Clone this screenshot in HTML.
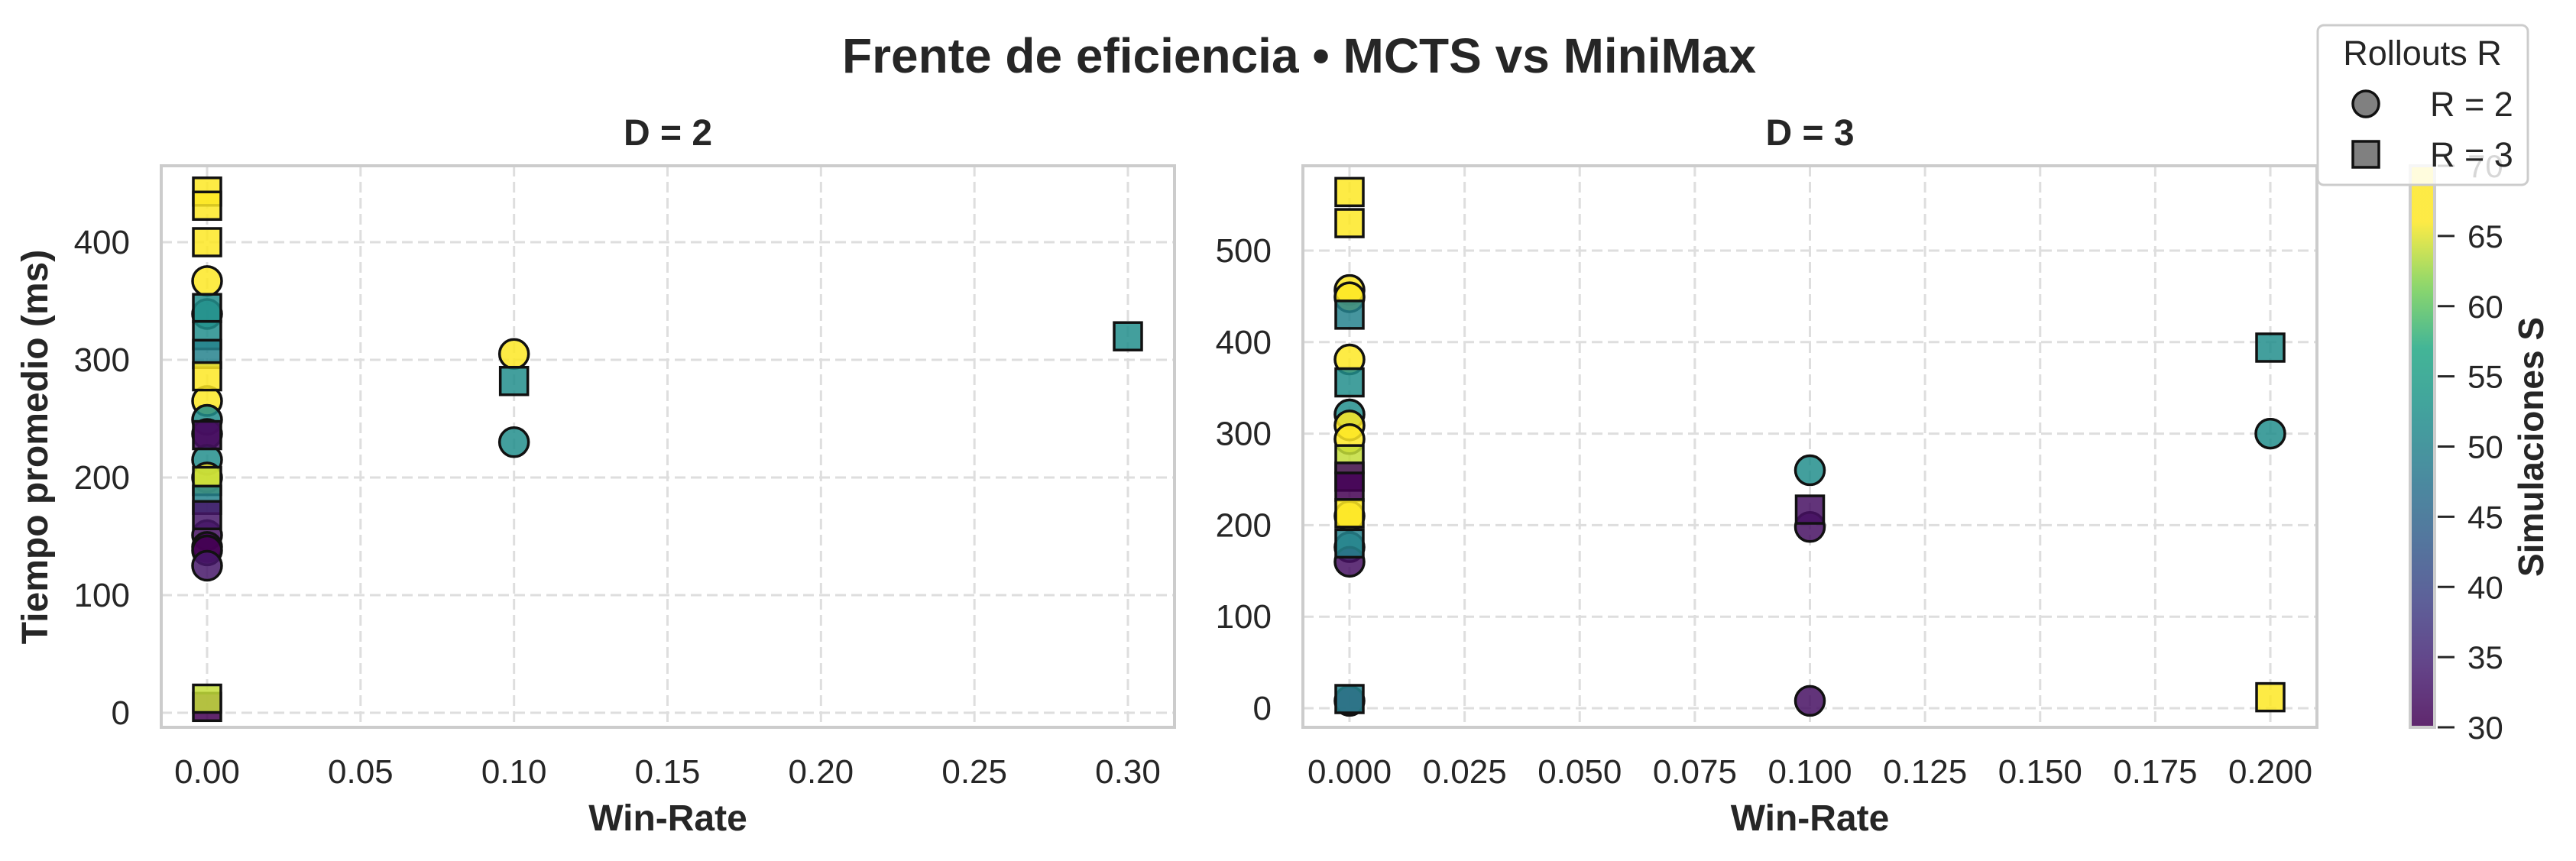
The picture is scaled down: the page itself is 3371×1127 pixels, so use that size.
<!DOCTYPE html>
<html><head><meta charset="utf-8"><style>
html,body{margin:0;padding:0;background:#fff;}
svg{display:block;font-family:"Liberation Sans",Arial,sans-serif;}
</style></head><body>
<svg id="chart" width="3371" height="1127" viewBox="0 0 3371 1127" xmlns="http://www.w3.org/2000/svg">
<text x="1700" y="95" text-anchor="middle" font-size="64" font-weight="bold" fill="#262626">Frente de eficiencia • MCTS vs MiniMax</text>
<g id="p1"></g>
<g id="p2"></g>
<g id="cbar"></g>
<g id="legend"></g>
</svg>
<script>
// ---- data: D = 2 ----
const d2WinRate = [0,0,0,0,0,0,0,0,0,0,0,0,0, 0,0,0,0,0,0,0,0,0,0,0, 0.1,0.1,0.1, 0.3];
const d2Time    = [443,431,400,344,321,305,286,236,197,181,168,5,12, 367,339,265,249,237,215,200,151,141,138,125, 305,282,230, 320];
const d2Rollout = [3,3,3,3,3,3,3,3,3,3,3,3,3, 2,2,2,2,2,2,2,2,2,2,2, 2,3,2, 3];
const d2Sims    = [70,70,70,52,52,50,70,32,64,50,33,30,64, 70,55,70,52,30,52,70,32,30,30,33, 70,52,52, 52];
// ---- data: D = 3 ----
const d3WinRate = [0,0,0,0,0,0,0,0,0,0, 0,0,0,0,0,0,0,0,0,0, 0.1,0.1,0.1,0.1, 0.2,0.2,0.2];
const d3Time    = [564,530,430,356,272,253,242,213,180,10, 457,449,381,321,309,294,210,176,160,8, 260,217,198,8, 394,300,12];
const d3Rollout = [3,3,3,3,3,3,3,3,3,3, 2,2,2,2,2,2,2,2,2,2, 2,3,2,2, 3,2,3];
const d3Sims    = [70,70,50,52,64,32,30,70,50,50, 70,70,70,52,66,70,70,52,32,30, 52,32,32,32, 52,52,70];
// ---- ticks ----
const d2XTicks = [0,0.05,0.10,0.15,0.20,0.25,0.30];
const d2XLabels = ["0.00","0.05","0.10","0.15","0.20","0.25","0.30"];
const d2YTicks = [0,100,200,300,400];
const d3XTicks = [0,0.025,0.05,0.075,0.1,0.125,0.15,0.175,0.2];
const d3XLabels = ["0.000","0.025","0.050","0.075","0.100","0.125","0.150","0.175","0.200"];
const d3YTicks = [0,100,200,300,400,500];
const cbTicks = [30,35,40,45,50,55,60,65,70];

const NS="http://www.w3.org/2000/svg";
function mk(tag,attrs,parent){const e=document.createElementNS(NS,tag);for(const k in attrs)e.setAttribute(k,attrs[k]);parent.appendChild(e);return e;}
const vir=[[0,[68,1,84]],[0.125,[72,36,117]],[0.25,[65,68,135]],[0.375,[53,95,141]],[0.5,[42,120,142]],[0.625,[33,145,140]],[0.75,[34,168,132]],[0.875,[122,209,81]],[1,[253,231,37]]];
function viridis(t){t=Math.max(0,Math.min(1,t));for(let i=1;i<vir.length;i++){if(t<=vir[i][0]){const a=vir[i-1],b=vir[i];const f=(t-a[0])/(b[0]-a[0]);const c=a[1].map((v,j)=>Math.round(v+(b[1][j]-v)*f));return `rgb(${c[0]},${c[1]},${c[2]})`;}}return "rgb(253,231,37)";}
function sColor(s){return viridis((s-30)/36);}

function panel(g,cfg){
  const {L,R,T,B,x0,x1,y0px,yPer,xT,xL,yT,title,wr,tm,ro,si,showYLabel,yLabelX}=cfg;
  const sx=v=>x0+(v)*(x1-x0);
  const sy=v=>y0px-v*yPer;
  xT.forEach((v,i)=>{const l=mk('line',{x1:sx(v),x2:sx(v),y1:T,y2:B,stroke:'#dedede','stroke-width':3,'stroke-dasharray':'14 7'},g);
    
    
    const t=mk('text',{x:sx(v),y:1025,'text-anchor':'middle','font-size':44,fill:'#262626'},g);t.textContent=xL[i];
    
    });
  yT.forEach(v=>{const l=mk('line',{x1:L,x2:R,y1:sy(v),y2:sy(v),stroke:'#dedede','stroke-width':3,'stroke-dasharray':'14 7'},g);
    
    
    const t=mk('text',{x:cfg.yLabRight,y:sy(v)+15,'text-anchor':'end','font-size':44,fill:'#262626'},g);t.textContent=String(v);
    
    });
  // circles first, then squares
  [2,3].forEach(kind=>{
    for(let i=0;i<wr.length;i++){
      if(ro[i]!==kind) continue;
      const cx=sx(wr[i]/cfg.xmax), cy=sy(tm[i]), col=sColor(si[i]);
      let e;
      if(kind===2){e=mk('circle',{cx:cx,cy:cy,r:19,fill:col,'fill-opacity':0.85,stroke:'#111','stroke-width':3.5},g);}
      else {e=mk('rect',{x:cx-18,y:cy-18,width:36,height:36,fill:col,'fill-opacity':0.85,stroke:'#111','stroke-width':3.5},g);}
      
      
    }
  });
  const fr=mk('rect',{x:L,y:T,width:R-L,height:B-T,fill:'none',stroke:'#cccccc','stroke-width':4},g);
  
  
  const tt=mk('text',{x:(L+R)/2,y:190,'text-anchor':'middle','font-size':48,'font-weight':'bold',fill:'#262626'},g);tt.textContent=title;
  
  
  const xl=mk('text',{x:(L+R)/2,y:1087,'text-anchor':'middle','font-size':48,'font-weight':'bold',fill:'#262626'},g);xl.textContent='Win-Rate';
  
  
  if(showYLabel){const yl=mk('text',{x:0,y:0,'text-anchor':'middle','font-size':48,'font-weight':'bold',fill:'#262626',transform:`translate(${yLabelX},585) rotate(-90)`},g);yl.textContent='Tiempo promedio (ms)';
    
    }
}
panel(document.getElementById('p1'),{L:211,R:1537,T:217,B:952,x0:271,x1:1476,xmax:0.3,y0px:933,yPer:1.54,xT:d2XTicks.map(v=>v/0.3),xL:d2XLabels,yT:d2YTicks,title:'D = 2',wr:d2WinRate,tm:d2Time,ro:d2Rollout,si:d2Sims,showYLabel:true,yLabelX:62,yLabRight:170});
panel(document.getElementById('p2'),{L:1705,R:3032,T:217,B:952,x0:1766,x1:2971,xmax:0.2,y0px:927,yPer:1.198,xT:d3XTicks.map(v=>v/0.2),xL:d3XLabels,yT:d3YTicks,title:'D = 3',wr:d3WinRate,tm:d3Time,ro:d3Rollout,si:d3Sims,showYLabel:false,yLabelX:0,yLabRight:1664});

// colorbar
(function(){
  const g=document.getElementById('cbar');
  const defs=mk('defs',{},g);
  const lg=mk('linearGradient',{id:'vg',x1:0,y1:1,x2:0,y2:0},defs);
  for(let i=0;i<=40;i++){const v=30+i;mk('stop',{offset:i/40,'stop-color':sColor(v),'stop-opacity':0.85},lg);}
  const cx0=3154,cw=32,top=217,bot=952;
  const r=mk('rect',{x:cx0,y:top,width:cw,height:bot-top,fill:'url(#vg)',stroke:'#cccccc','stroke-width':4},g);
  
  
  const cy=v=>bot-(v-30)/40*(bot-top);
  cbTicks.forEach(v=>{mk('line',{x1:cx0+cw+4,x2:cx0+cw+26,y1:cy(v),y2:cy(v),stroke:'#262626','stroke-width':3},g);
    const t=mk('text',{x:3229,y:cy(v)+15,'font-size':42,fill:'#262626'},g);t.textContent=String(v);
    
    });
  const lab=mk('text',{x:0,y:0,'text-anchor':'middle','font-size':46,'font-weight':'bold',fill:'#262626',transform:'translate(3328,585) rotate(-90)'},g);lab.textContent='Simulaciones S';
  
  
})();

// legend
(function(){
  const g=document.getElementById('legend');
  const b=mk('rect',{x:3033,y:33,width:275,height:209,rx:8,fill:'#ffffff','fill-opacity':0.82,stroke:'#cccccc','stroke-width':3},g);
  
  
  const t=mk('text',{x:3170,y:85,'text-anchor':'middle','font-size':45,fill:'#262626'},g);t.textContent='Rollouts R';
  
  
  const c=mk('circle',{cx:3096,cy:136,r:17,fill:'#808080',stroke:'#111','stroke-width':3.5},g);
  
  
  const t1=mk('text',{x:3180,y:152,'font-size':45,fill:'#262626'},g);t1.textContent='R = 2';
  
  
  const s=mk('rect',{x:3079,y:185,width:34,height:34,fill:'#808080',stroke:'#111','stroke-width':3.5},g);
  
  
  const t2=mk('text',{x:3180,y:218,'font-size':45,fill:'#262626'},g);t2.textContent='R = 3';
  
  
})();
</script>
</body></html>
